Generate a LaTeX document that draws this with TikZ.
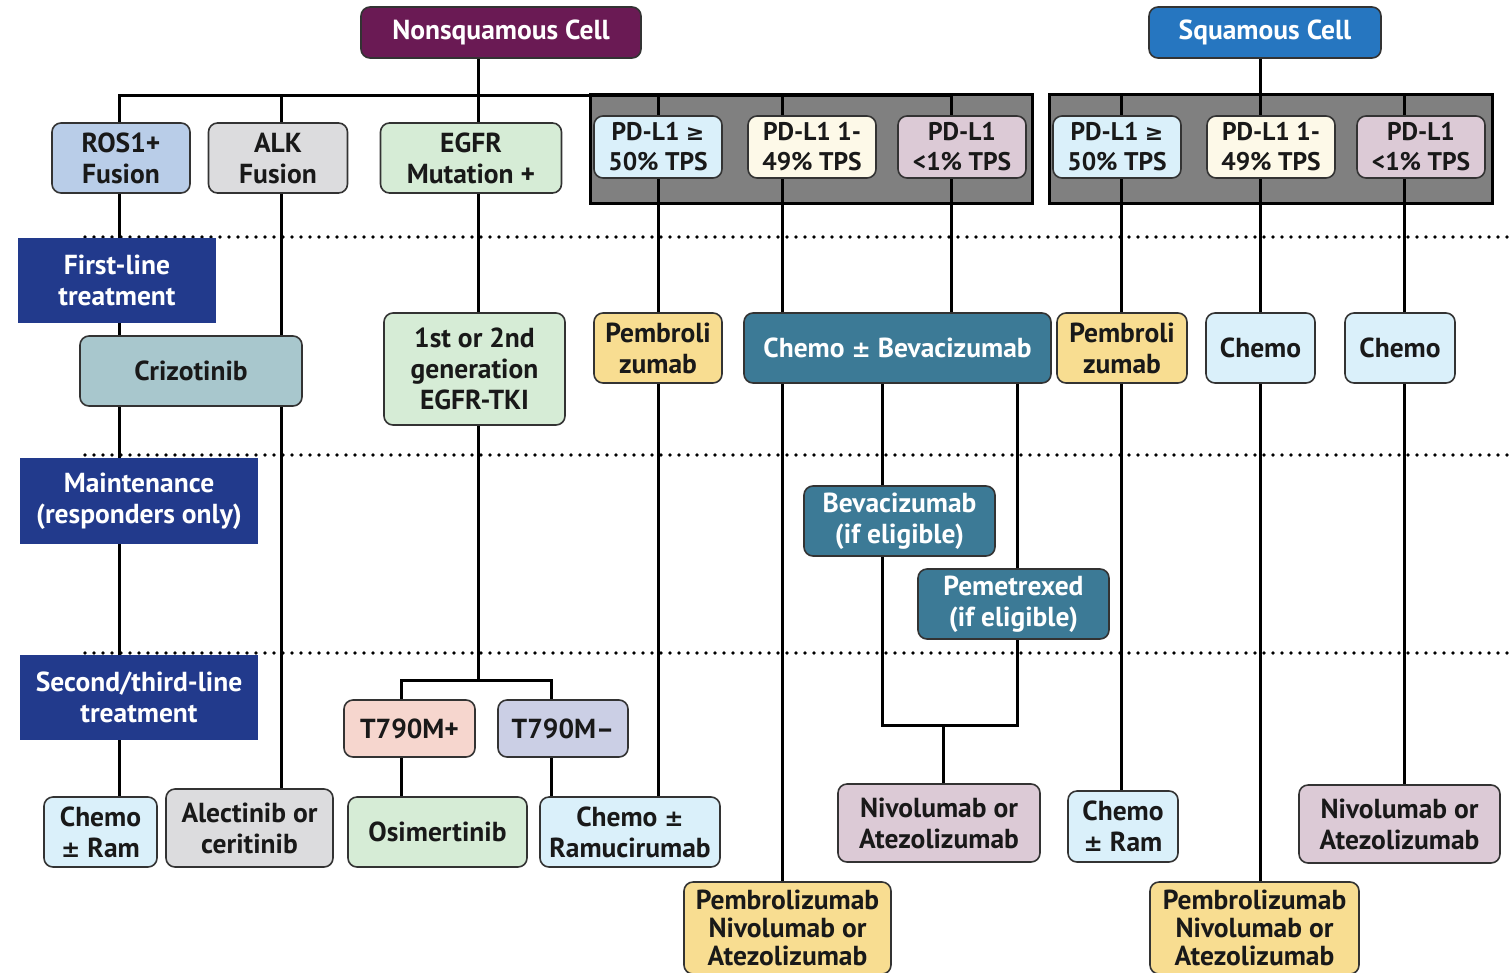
\documentclass[tikz,border=0pt]{standalone}
\usepackage{fontspec}
\setmainfont{PT Sans}
\newfontfamily\symfont{DejaVu Sans}
\newcommand{\geqsym}{{\symfont\fontsize{22}{22}\selectfont ≥}}
\newcommand{\pmsym}{{\symfont\fontsize{23}{23}\selectfont ±}}
\usetikzlibrary{calc}
\pgfdeclarelayer{back}
\pgfdeclarelayer{mid}
\pgfsetlayers{back,mid,main}

\definecolor{nsqcol}{RGB}{106,26,84}
\definecolor{sqcol}{RGB}{38,118,192}
\definecolor{stagecol}{RGB}{34,58,140}
\definecolor{tealcol}{RGB}{60,122,150}
\definecolor{crizcol}{RGB}{168,199,205}
\definecolor{roscol}{RGB}{185,205,232}
\definecolor{alkcol}{RGB}{220,220,222}
\definecolor{egfrcol}{RGB}{214,236,214}
\definecolor{hicol}{RGB}{218,240,250}
\definecolor{midcol}{RGB}{253,249,232}
\definecolor{locol}{RGB}{220,202,214}
\definecolor{pembcol}{RGB}{248,221,145}
\definecolor{tpcol}{RGB}{246,214,206}
\definecolor{tmcol}{RGB}{203,207,229}
\definecolor{panelcol}{RGB}{128,128,128}

\tikzset{
  txt/.style={font=\bfseries\fontsize{27.5}{31}\selectfont},
  box/.style={txt, draw=black!80, line width=1.6pt, rounded corners=9pt,
    align=center, inner sep=2pt, text=black!90},
  darkbox/.style={box, text=white},
  pdbox/.style={box, minimum width=128pt, minimum height=62pt,
    font=\bfseries\fontsize{25.5}{30}\selectfont},
  stage/.style={txt, fill=stagecol, align=center, inner sep=2pt, text=white},
  link/.style={line width=3pt},
  sep/.style={line width=3.6pt, line cap=round, dash pattern=on 0pt off 9pt},
  panel/.style={fill=panelcol, draw=black, line width=3pt},
}

\begin{document}
\begin{tikzpicture}[x=1pt, y=-1pt]
    \useasboundingbox (0,0) rectangle (1509,972);

    % 组织类型
    \node[darkbox, fill=nsqcol, minimum width=280pt, minimum height=51pt] (nsq) at (501,32.5) {Nonsquamous Cell};
    \node[darkbox, fill=sqcol, minimum width=232pt, minimum height=51pt] (sq) at (1265,32.5) {Squamous Cell};

    % 灰色底框
    \begin{pgfonlayer}{back}
      \draw[panel] (590,94) rectangle (1032,203);
      \draw[panel] (1049,94) rectangle (1492,203);
      \foreach \y in {237,455,653}
        \draw[sep] (85,\y) -- (1507,\y);
    \end{pgfonlayer}

    % 驱动基因与 PD-L1
    \node[box, fill=roscol, minimum width=138pt, minimum height=70pt] (ros1) at (121,158) {ROS1+\\Fusion};
    \node[box, fill=alkcol, minimum width=139pt, minimum height=70pt] (alk) at (278,158) {ALK\\Fusion};
    \node[box, fill=egfrcol, minimum width=181pt, minimum height=70pt] (egfr) at (471,158) {EGFR\\Mutation +};
    \node[pdbox, fill=hicol] (pdA1) at (658,147) {PD-L1 \geqsym\\50\% TPS};
    \node[pdbox, fill=midcol] (pdA2) at (812,147) {PD-L1 1-\\49\% TPS};
    \node[pdbox, fill=locol] (pdA3) at (962,147) {PD-L1\\<1\% TPS};
    \node[pdbox, fill=hicol] (pdB1) at (1117,147) {PD-L1 \geqsym\\50\% TPS};
    \node[pdbox, fill=midcol] (pdB2) at (1271,147) {PD-L1 1-\\49\% TPS};
    \node[pdbox, fill=locol] (pdB3) at (1421,147) {PD-L1\\<1\% TPS};

    % 阶段标签
    \node[stage, minimum width=198pt, minimum height=85pt] (first) at (117,280.5) {First-line\\treatment};
    \node[stage, minimum width=238pt, minimum height=86pt] (maint) at (139,501) {Maintenance\\(responders only)};
    \node[stage, minimum width=238pt, minimum height=85pt] (second) at (139,697.5) {Second/third-line\\treatment};

    % 一线治疗
    \node[box, fill=crizcol, minimum width=222pt, minimum height=70pt] (crizo) at (191,371) {Crizotinib};
    \node[box, fill=egfrcol, minimum width=181pt, minimum height=112pt] (tki) at (474.5,369) {1st or 2nd\\generation\\EGFR-TKI};
    \node[box, fill=pembcol, minimum width=128pt, minimum height=70pt] (pembA) at (658,348) {Pembroli\\zumab};
    \node[darkbox, fill=tealcol, minimum width=307pt, minimum height=70pt] (chemobev) at (897.5,348) {Chemo \pmsym\ Bevacizumab};
    \node[box, fill=pembcol, minimum width=130pt, minimum height=70pt] (pembB) at (1122,348) {Pembroli\\zumab};
    \node[box, fill=hicol, minimum width=109pt, minimum height=70pt] (chemoB1) at (1260.5,348) {Chemo};
    \node[box, fill=hicol, minimum width=110pt, minimum height=70pt] (chemoB2) at (1400,348) {Chemo};

    % 维持治疗
    \node[darkbox, fill=tealcol, minimum width=191pt, minimum height=70pt] (bev) at (899.5,521) {Bevacizumab\\(if eligible)};
    \node[darkbox, fill=tealcol, minimum width=191pt, minimum height=70pt] (peme) at (1013.5,604) {Pemetrexed\\(if eligible)};

    % 二线/三线治疗
    \node[box, fill=tpcol, minimum width=131pt, minimum height=57pt] (tplus) at (409.5,728.5) {T790M+};
    \node[box, fill=tmcol, minimum width=130pt, minimum height=57pt] (tminus) at (563,728.5) {T790M--};
    \node[box, fill=hicol, minimum width=113pt, minimum height=70pt] (chemoramA) at (100.5,832) {Chemo\\\pmsym\ Ram};
    \node[box, fill=alkcol, minimum width=167pt, minimum height=78pt] (alec) at (249.5,828) {Alectinib or\\ceritinib};
    \node[box, fill=egfrcol, minimum width=179pt, minimum height=70pt] (osi) at (437.5,832) {Osimertinib};
    \node[box, fill=hicol, minimum width=180pt, minimum height=70pt] (chemoramu) at (630,832) {Chemo \pmsym\\Ramucirumab};
    \node[box, fill=locol, minimum width=202pt, minimum height=78pt] (nivoA) at (939,823) {Nivolumab or\\Atezolizumab};
    \node[box, fill=hicol, minimum width=110pt, minimum height=71pt] (chemoramB) at (1123,826.5) {Chemo\\\pmsym\ Ram};
    \node[box, fill=locol, minimum width=201pt, minimum height=78pt] (nivoB) at (1399.5,824) {Nivolumab or\\Atezolizumab};
    \node[box, fill=pembcol, minimum width=207pt, minimum height=92pt, font=\bfseries\fontsize{27.5}{28}\selectfont] (pembroA) at (787.5,928) {Pembrolizumab\\Nivolumab or\\Atezolizumab};
    \node[box, fill=pembcol, minimum width=209pt, minimum height=92pt, font=\bfseries\fontsize{27.5}{28}\selectfont] (pembroB) at (1254.5,928) {Pembrolizumab\\Nivolumab or\\Atezolizumab};

    % 连线的列
    \foreach \n/\x in {ros/119, alk/281, egfr/478, a1/658, a2/782, a3/951,
                       b1/1121, b2/1260, b3/1404, bev/882, pem/1017,
                       tp/401, tm/551}
      \coordinate (c\n) at (\x,0);
    \coordinate (nbar) at (478,95);
    \coordinate (sbar) at (1260,95);
    \coordinate (tfork) at (478,680);
    \coordinate (mfork) at (943,725);

    \begin{pgfonlayer}{mid}
      % 非鳞癌
      \draw[link] (nbar |- nsq.south) -- (nbar);
      \draw[link] (cros |- ros1.north) |- (nbar) -- (ca3 |- nbar) -- (ca3 |- pdA3.north);
      \draw[link] (calk |- nbar) -- (calk |- alk.north);
      \draw[link] (nbar) -- (cegfr |- egfr.north);
      \draw[link] (ca1 |- nbar) -- (ca1 |- pdA1.north);
      \draw[link] (ca2 |- nbar) -- (ca2 |- pdA2.north);

      \draw[link] (cros |- ros1.south) -- (cros |- chemoramA.north);
      \draw[link] (calk |- alk.south) -- (calk |- alec.north);
      \draw[link] (cegfr |- egfr.south) -- (cegfr |- tki.north);
      \draw[link] (cegfr |- tki.south) -- (tfork);
      \draw[link] (ctp |- tplus.north) |- (tfork) -| (ctm |- tminus.north);
      \draw[link] (ctp |- tplus.south) -- (ctp |- osi.north);
      \draw[link] (ctm |- tminus.south) -- (ctm |- chemoramu.north);

      \draw[link] (ca1 |- pdA1.south) -- (ca1 |- pembA.north);
      \draw[link] (ca1 |- pembA.south) -- (ca1 |- chemoramu.north);
      \draw[link] (ca2 |- pdA2.south) -- (ca2 |- chemobev.north);
      \draw[link] (ca2 |- chemobev.south) -- (ca2 |- pembroA.north);
      \draw[link] (ca3 |- pdA3.south) -- (ca3 |- chemobev.north);
      \draw[link] (cbev |- chemobev.south) -- (cbev |- bev.north);
      \draw[link] (cpem |- chemobev.south) -- (cpem |- peme.north);
      \draw[link] (cbev |- bev.south) |- (mfork) -| (cpem |- peme.south);
      \draw[link] (mfork) -- (mfork |- nivoA.north);

      % 鳞癌
      \draw[link] (sbar |- sq.south) -- (sbar);
      \draw[link] (cb1 |- sbar) -- (cb1 |- pdB1.north);
      \draw[link] (sbar) -- (cb2 |- pdB2.north);
      \draw[link] (cb3 |- sbar) -- (cb3 |- pdB3.north);
      \draw[link] (cb1 |- pdB1.south) -- (cb1 |- pembB.north);
      \draw[link] (cb1 |- pembB.south) -- (cb1 |- chemoramB.north);
      \draw[link] (cb2 |- pdB2.south) -- (cb2 |- chemoB1.north);
      \draw[link] (cb2 |- chemoB1.south) -- (cb2 |- pembroB.north);
      \draw[link] (cb3 |- pdB3.south) -- (cb3 |- chemoB2.north);
      \draw[link] (cb3 |- chemoB2.south) -- (cb3 |- nivoB.north);
    \end{pgfonlayer}
\end{tikzpicture}
\end{document}
